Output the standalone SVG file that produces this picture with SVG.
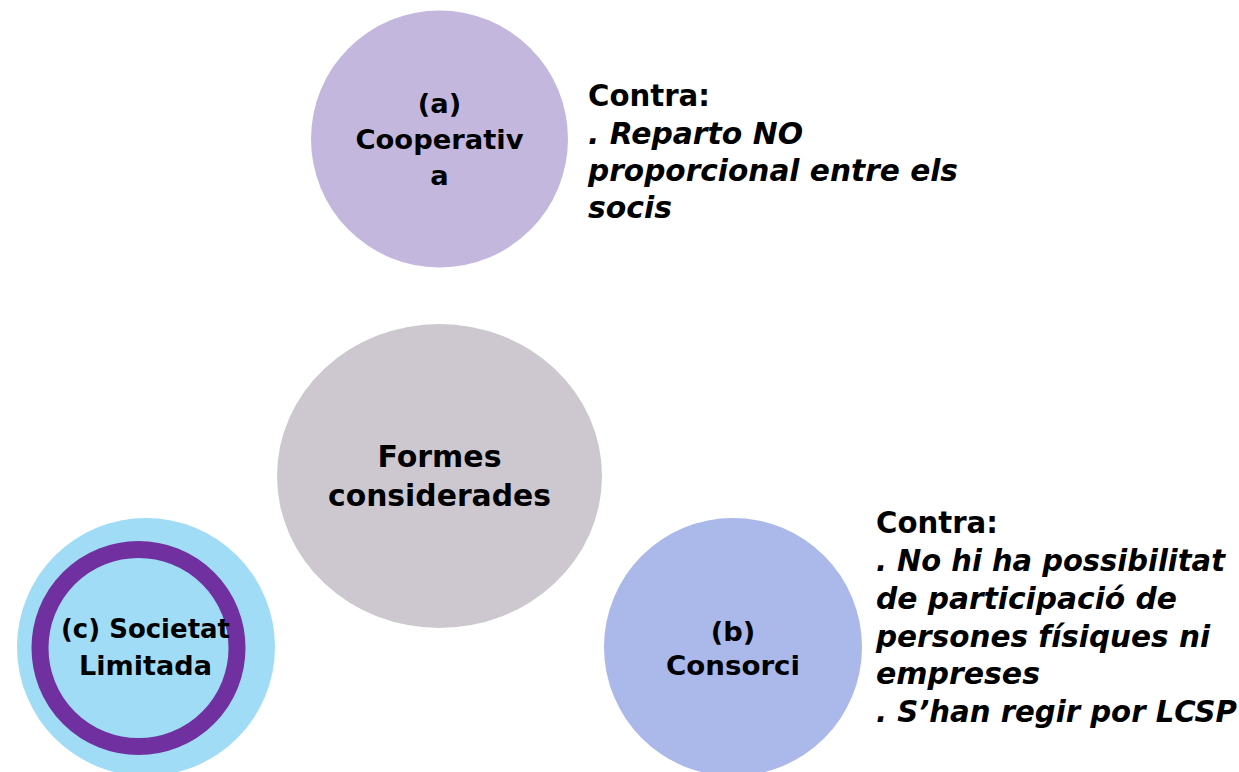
<svg xmlns="http://www.w3.org/2000/svg" width="1239" height="772" viewBox="0 0 1239 772">
<style>
.lbl{font-family:"DejaVu Sans","Liberation Sans",sans-serif;font-weight:bold;fill:#000;text-anchor:middle}
.note{font-family:"DejaVu Sans","Liberation Sans",sans-serif;font-weight:bold;fill:#000;font-size:29.3px}
.it{font-style:italic}
</style>
<rect width="1239" height="772" fill="#fff"/>
<g id="connectors"></g>
<g id="node-a">
<circle cx="439.5" cy="139" r="128.5" fill="#C3B7DD"/>
<text class="lbl" font-size="27.3" x="439.5" y="113">(a)</text>
<text class="lbl" font-size="27.3" x="439.5" y="149" textLength="168" lengthAdjust="spacingAndGlyphs">Cooperativ</text>
<text class="lbl" font-size="27.3" x="439.5" y="185">a</text>
</g>
<g id="note-a">
<text class="note" x="588" y="106" textLength="122" lengthAdjust="spacingAndGlyphs">Contra:</text>
<text class="note it" x="588" y="144" textLength="215" lengthAdjust="spacingAndGlyphs">. Reparto NO</text>
<text class="note it" x="588" y="181" textLength="370" lengthAdjust="spacingAndGlyphs">proporcional entre els</text>
<text class="note it" x="588" y="218" textLength="84" lengthAdjust="spacingAndGlyphs">socis</text>
</g>
<g id="node-center">
<ellipse cx="439.5" cy="476" rx="162.5" ry="152" fill="#CDC8D0"/>
<text class="lbl" font-size="29.7" x="439.5" y="467" textLength="124" lengthAdjust="spacingAndGlyphs">Formes</text>
<text class="lbl" font-size="29.7" x="439.5" y="506" textLength="223" lengthAdjust="spacingAndGlyphs">considerades</text>
</g>
<g id="node-b">
<circle cx="733" cy="647" r="129" fill="#AAB8EA"/>
<text class="lbl" font-size="27.3" x="733" y="641">(b)</text>
<text class="lbl" font-size="27.3" x="733" y="675" textLength="134" lengthAdjust="spacingAndGlyphs">Consorci</text>
</g>
<g id="note-b">
<text class="note" x="876" y="533" textLength="122" lengthAdjust="spacingAndGlyphs">Contra:</text>
<text class="note it" x="876" y="571" textLength="349" lengthAdjust="spacingAndGlyphs">. No hi ha possibilitat</text>
<text class="note it" x="876" y="609" textLength="301" lengthAdjust="spacingAndGlyphs">de participació de</text>
<text class="note it" x="876" y="647" textLength="334" lengthAdjust="spacingAndGlyphs">persones físiques ni</text>
<text class="note it" x="876" y="684" textLength="164" lengthAdjust="spacingAndGlyphs">empreses</text>
<text class="note it" x="876" y="722" textLength="361" lengthAdjust="spacingAndGlyphs">. S’han regir por LCSP</text>
</g>
<g id="node-c">
<circle cx="146" cy="647" r="129" fill="#A0DCF6"/>
<circle cx="138.5" cy="648" r="98.5" fill="none" stroke="#7030A0" stroke-width="17"/>
<text class="lbl" font-size="27.3" x="145.5" y="638" textLength="169" lengthAdjust="spacingAndGlyphs">(c) Societat</text>
<text class="lbl" font-size="27.3" x="145.5" y="675" textLength="133" lengthAdjust="spacingAndGlyphs">Limitada</text>
</g>
</svg>
